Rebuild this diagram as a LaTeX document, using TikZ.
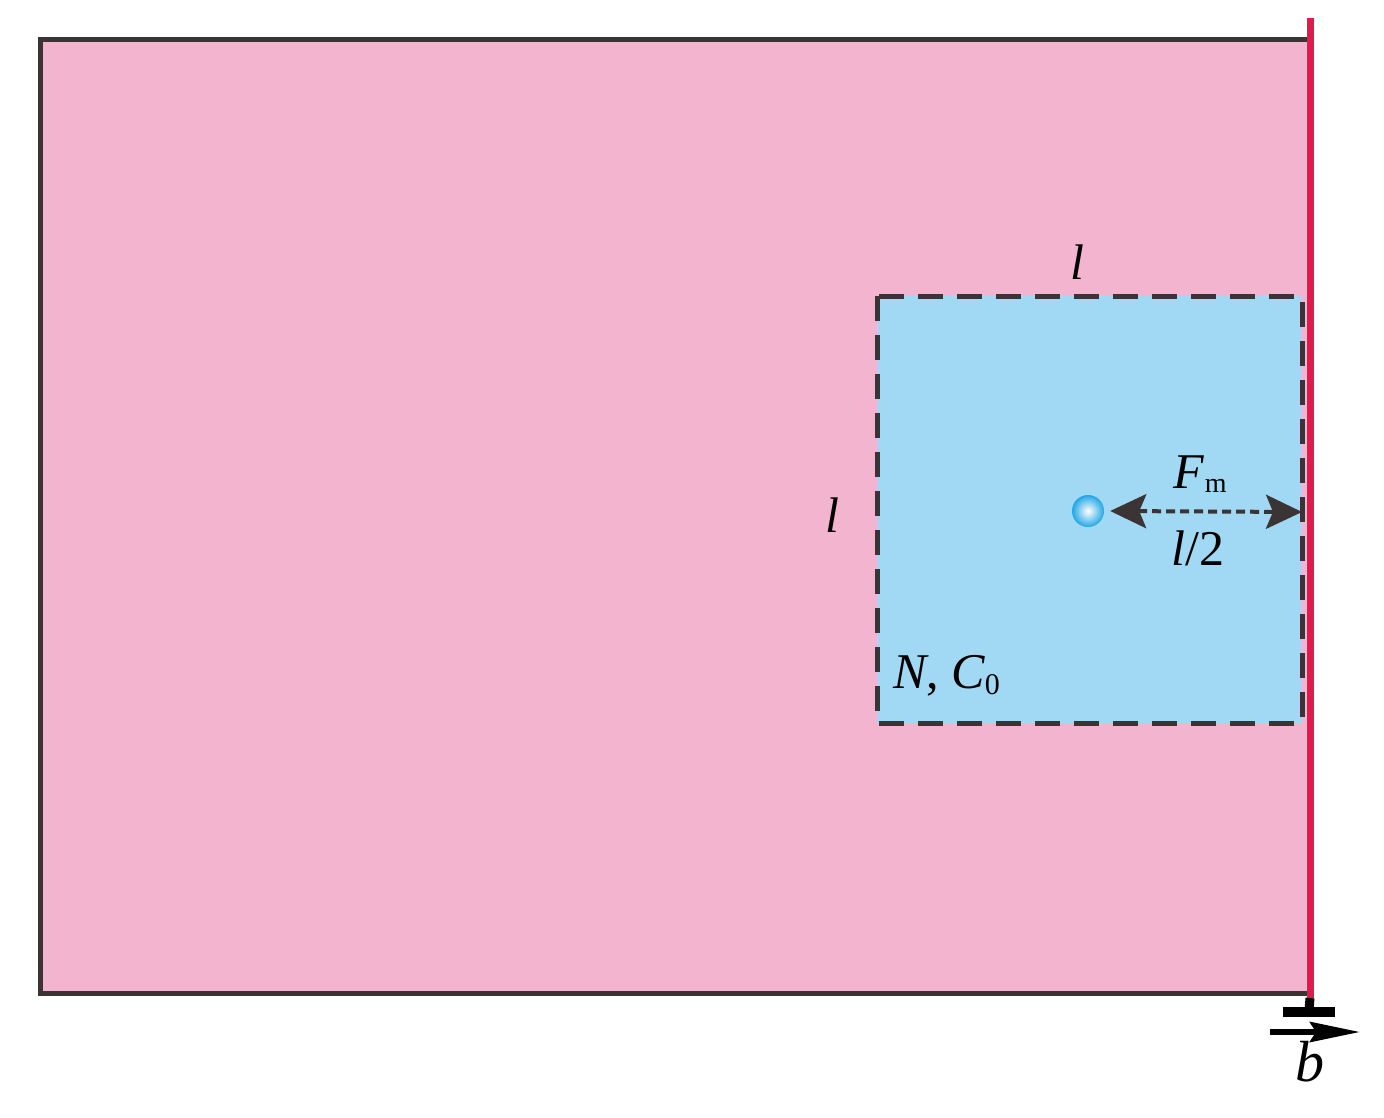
\documentclass[tikz,border=0pt]{standalone}
\usepackage{fontspec}
\setmainfont{Liberation Serif}
\usetikzlibrary{arrows.meta}
\definecolor{pinkbg}{HTML}{F3B4CF}
\definecolor{bluebg}{HTML}{A1D8F3}
\definecolor{redline}{HTML}{E0194E}
\definecolor{darkline}{HTML}{3A3434}
\definecolor{ballc}{HTML}{22A6E6}
\tikzset{
  lbl/.style={font=\fontsize{50}{56}\selectfont\itshape, text=black, inner sep=0pt},
  dashbox/.style={draw=darkline, line width=5pt, dash pattern=on 25pt off 14pt},
  arr/.style={draw=darkline, line width=4pt, dash pattern=on 9pt off 5pt,
     {Stealth[length=36pt,width=34pt,inset=7pt]}-{Stealth[length=36pt,width=34pt,inset=7pt]}}
}
\begin{document}
\begin{tikzpicture}[x=1pt,y=-1pt]
\useasboundingbox (0,0) rectangle (1384,1118);
% pink region
\fill[pinkbg] (38,40) rectangle (1310,995);
\draw[darkline, line width=5pt] (1308,40) -- (40.5,40) -- (40.5,993) -- (1308,993);
% blue square
\fill[bluebg] (877,296) rectangle (1302,723);
\draw[dashbox] (877,296) rectangle (1302,723);
% red wall
\coordinate (rtop) at (1310,18);
\coordinate (rbot) at (1310,998);
\draw[redline, line width=7pt] (rtop) -- (rbot);
% pin at bottom
\coordinate (stemb) at (1309,1010);
\draw[black, line width=9pt] (rbot) -- (stemb);
\draw[black, line width=10pt] (1283,1012) -- (1335,1012);
% arrow b
\coordinate (ba) at (1270,1032);
\coordinate (bb) at (1360,1032);
\draw[black, line width=6pt, -{Stealth[length=50pt,width=20pt,inset=6pt]}] (ba) -- (bb);
\node[lbl, font=\fontsize{58}{60}\selectfont\itshape] (blab) at (1310,1062) {b};
% ball
\shade[inner color=white, outer color=ballc] (1088,511) circle (16);
\node[circle, minimum size=32pt, inner sep=0pt] (ball) at (1088,511) {};
\coordinate (wall) at (1302,512);
\draw[arr] (ball.east) ++(6,0) coordinate (as) (as) -- (wall);
% labels
\node[lbl] (Fm) at (1200,474) {F\kern1pt\raisebox{-4pt}{\fontsize{28}{30}\selectfont\upshape m}};
\node[lbl] (half) at (1198,548) {l\upshape /2};
\node[lbl] (ltop) at (1077,262) {l};
\node[lbl] (lleft) at (832,515) {l};
\node[lbl, anchor=west] (NC) at (893,676) {N\upshape,\itshape\ C\raisebox{-6pt}{\fontsize{30}{32}\selectfont\upshape 0}};
\end{tikzpicture}
\end{document}
